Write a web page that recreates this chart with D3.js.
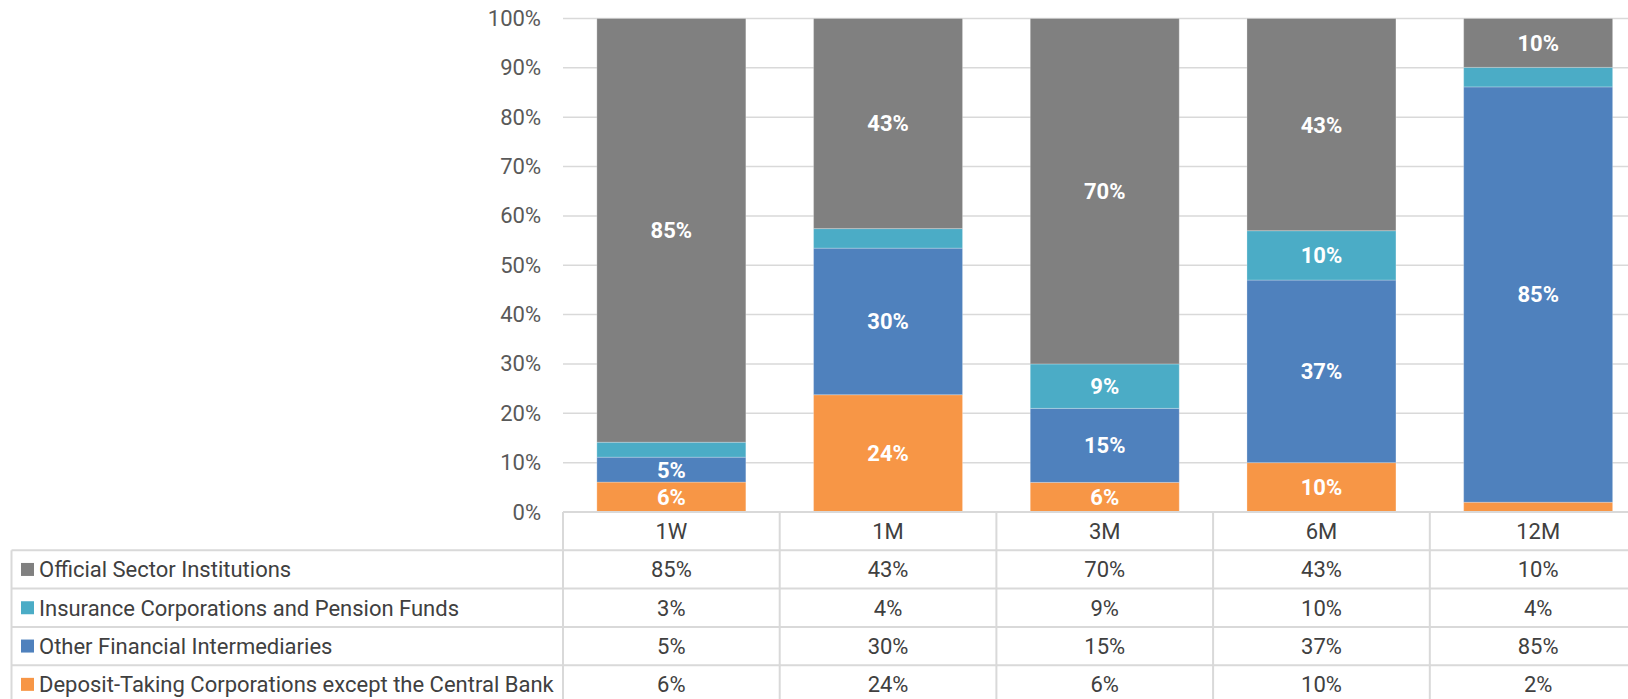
<!DOCTYPE html>
<html>
<head>
<meta charset="utf-8">
<script src="https://cdn.jsdelivr.net/npm/d3@7"></script>
<style>
  body { margin: 0; background: #fff; }
  svg { display: block; font-family: Roboto, "Open Sans", sans-serif; }
</style>
</head>
<body>
<div id="chart"></div>
<script>
// categorias e séries (valores em %)
const categories = ['1W', '1M', '3M', '6M', '12M'];
const seriesNames = [
    'Official Sector Institutions',
    'Insurance Corporations and Pension Funds',
    'Other Financial Intermediaries',
    'Deposit-Taking Corporations except the Central Bank'
];
const official = [85, 43, 70, 43, 10];
const insurance = [3, 4, 9, 10, 4];
const otherFinancial = [5, 30, 15, 37, 85];
const depositTaking = [6, 24, 6, 10, 2];
const yTicks = [0, 0.1, 0.2, 0.3, 0.4, 0.5, 0.6, 0.7, 0.8, 0.9, 1];

const seriesValues = [official, insurance, otherFinancial, depositTaking];
const colors = ['#808080', '#4bacc6', '#4f81bd', '#f79646'];

const W = 1628, H = 699;
const plotLeft = 563, plotTop = 18.5, plotBottom = 512;
const step = 216.7;
const rowH = 38.3;
const fontSize = '22px';

const svg = d3.select('#chart').append('svg')
    .attr('width', W)
    .attr('height', H);

// tabela de linhas para o stack
const rows = categories.map((c, i) => {
    const r = { cat: c };
    seriesNames.forEach((s, j) => { r[s] = seriesValues[j][i]; });
    return r;
});

// ordem de empilhamento: de baixo para cima
const stackKeys = seriesNames.slice().reverse();
const stacked = d3.stack().keys(stackKeys).offset(d3.stackOffsetExpand)(rows);

const x = d3.scaleBand()
    .domain(categories)
    .range([plotLeft, plotLeft + step * categories.length])
    .paddingInner(0.3125)
    .paddingOuter(0.15625);

const xCol = d3.scaleBand()
    .domain(categories)
    .range([plotLeft, plotLeft + step * categories.length])
    .padding(0);

const y = d3.scaleLinear().domain([0, 1]).range([plotBottom, plotTop]);

// linhas de grade
svg.append('g')
    .selectAll('line')
    .data(yTicks)
    .enter()
    .append('line')
    .attr('x1', plotLeft)
    .attr('x2', W)
    .attr('y1', d => y(d))
    .attr('y2', d => y(d))
    .attr('stroke', '#d9d9d9')
    .attr('stroke-width', 1.5);

// eixo y
const yAxis = svg.append('g')
    .attr('transform', `translate(${plotLeft - 22},0)`)
    .call(d3.axisLeft(y).tickValues(yTicks).tickFormat(d3.format('.0%')).tickSize(0).tickPadding(0));
yAxis.select('.domain').remove();
yAxis.selectAll('text')
    .attr('fill', '#595959')
    .style('font-size', fontSize)
    .style('font-family', 'Roboto, sans-serif');

// barras
const layer = svg.append('g')
    .selectAll('g')
    .data(stacked)
    .enter()
    .append('g')
    .attr('fill', d => colors[seriesNames.indexOf(d.key)]);

layer.selectAll('rect')
    .data(d => d)
    .enter()
    .append('rect')
    .attr('x', d => x(d.data.cat))
    .attr('width', x.bandwidth())
    .attr('y', d => y(d[1]))
    .attr('height', d => y(d[0]) - y(d[1]))
    .attr('stroke', 'rgba(255,255,255,0.25)')
    .attr('stroke-width', 1);

// rótulos dentro das barras
layer.each(function(s) {
    d3.select(this).selectAll('text')
        .data(s.filter(d => d.data[s.key] >= 5))
        .enter()
        .append('text')
        .attr('x', d => x(d.data.cat) + x.bandwidth() / 2)
        .attr('y', d => y((d[0] + d[1]) / 2))
        .attr('dy', '0.36em')
        .attr('text-anchor', 'middle')
        .attr('fill', '#fff')
        .style('font-size', fontSize)
        .style('font-weight', 'bold')
        .text(d => d.data[s.key] + '%');
});

// tabela de dados
const tableLeft = 11.5;
const tableTop = plotBottom;
const table = svg.append('g');
const gridColor = '#d9d9d9';

// linhas horizontais
table.append('line')
    .attr('x1', plotLeft).attr('x2', W)
    .attr('y1', tableTop).attr('y2', tableTop)
    .attr('stroke', gridColor).attr('stroke-width', 2);
table.selectAll('.hline')
    .data(d3.range(1, seriesNames.length + 1))
    .enter()
    .append('line')
    .attr('class', 'hline')
    .attr('x1', tableLeft).attr('x2', W)
    .attr('y1', d => tableTop + d * rowH)
    .attr('y2', d => tableTop + d * rowH)
    .attr('stroke', gridColor).attr('stroke-width', 2);

// linhas verticais
table.selectAll('.vline')
    .data(categories)
    .enter()
    .append('line')
    .attr('class', 'vline')
    .attr('x1', d => xCol(d)).attr('x2', d => xCol(d))
    .attr('y1', tableTop).attr('y2', H)
    .attr('stroke', gridColor).attr('stroke-width', 2);
table.append('line')
    .attr('x1', tableLeft).attr('x2', tableLeft)
    .attr('y1', tableTop + rowH).attr('y2', H)
    .attr('stroke', gridColor).attr('stroke-width', 2);

// cabeçalho
table.selectAll('.head')
    .data(categories)
    .enter()
    .append('text')
    .attr('class', 'head')
    .attr('x', d => xCol(d) + xCol.bandwidth() / 2)
    .attr('y', tableTop + rowH / 2)
    .attr('dy', '0.36em')
    .attr('text-anchor', 'middle')
    .attr('fill', '#404040')
    .style('font-size', fontSize)
    .text(d => d);

// linhas da legenda + valores
seriesNames.forEach((name, j) => {
    const cy = tableTop + rowH * (j + 1) + rowH / 2;
    table.append('rect')
        .attr('x', 21)
        .attr('y', cy - 6.5)
        .attr('width', 13)
        .attr('height', 13)
        .attr('fill', colors[j]);
    table.append('text')
        .attr('x', 39)
        .attr('y', cy)
        .attr('dy', '0.36em')
        .attr('fill', '#404040')
        .style('font-size', fontSize)
        .text(name);
    table.selectAll('.v' + j)
        .data(seriesValues[j])
        .enter()
        .append('text')
        .attr('x', (d, i) => xCol(categories[i]) + xCol.bandwidth() / 2)
        .attr('y', cy)
        .attr('dy', '0.36em')
        .attr('text-anchor', 'middle')
        .attr('fill', '#404040')
        .style('font-size', fontSize)
        .text(d => d + '%');
});
</script>
</body>
</html>
